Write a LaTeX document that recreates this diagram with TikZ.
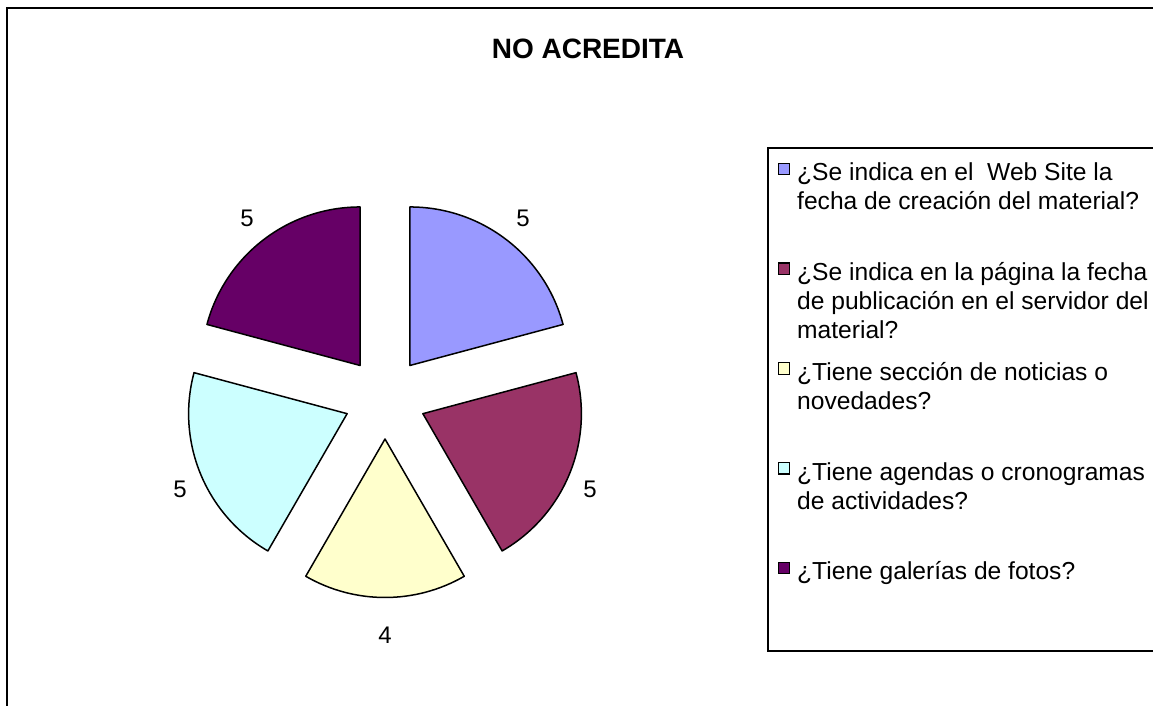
\documentclass[tikz,border=0pt]{standalone}
\usepackage{fontspec}
\setmainfont{Liberation Sans}
\definecolor{c1}{HTML}{9999FF}
\definecolor{c2}{HTML}{993366}
\definecolor{c3}{HTML}{FFFFCC}
\definecolor{c4}{HTML}{CCFFFF}
\definecolor{c5}{HTML}{660066}
\newcommand{\legfont}{\fontsize{24.6}{29}\selectfont}
\begin{document}
\begin{tikzpicture}[x=1pt,y=1pt,
  slice/.style={draw=black,line width=1.5pt,line join=round},
  lbl/.style={font=\fontsize{24}{29}\selectfont,inner sep=0pt,anchor=center},
  legtext/.style={font=\legfont,anchor=base west,inner sep=0pt},
  legmark/.style={draw=black,line width=1.2pt,minimum size=11.5pt,inner sep=0pt,anchor=center}
]
\useasboundingbox (0,0) rectangle (1153,706);
\clip (0,0) rectangle (1153,706);
% outer chart border
\draw[line width=2pt] (7,-20) rectangle (1180,698);
% title
\node[font=\bfseries\fontsize{28}{32}\selectfont,anchor=base,inner sep=0pt] (title) at (588,647.7) {NO ACREDITA};
% pie
\coordinate (C) at (385,308);
\def\R{158.5}
\def\D{41}
\coordinate (a1) at ([shift={(52.5:\D)}]C);
\coordinate (a2) at ([shift={(-22.5:\D)}]C);
\coordinate (a3) at ([shift={(-90:\D)}]C);
\coordinate (a4) at ([shift={(-157.5:\D)}]C);
\coordinate (a5) at ([shift={(127.5:\D)}]C);
\draw[slice,fill=c1] (a1) -- ++(15:\R) arc[start angle=15,end angle=90,radius=\R] -- cycle;
\draw[slice,fill=c2] (a2) -- ++(-60:\R) arc[start angle=-60,end angle=15,radius=\R] -- cycle;
\draw[slice,fill=c3] (a3) -- ++(-120:\R) arc[start angle=-120,end angle=-60,radius=\R] -- cycle;
\draw[slice,fill=c4] (a4) -- ++(165:\R) arc[start angle=165,end angle=240,radius=\R] -- cycle;
\draw[slice,fill=c5] (a5) -- ++(90:\R) arc[start angle=90,end angle=165,radius=\R] -- cycle;
% data labels
\node[lbl] (l1) at (523,488) {5};
\node[lbl] (l2) at (590,217) {5};
\node[lbl] (l3) at (385,71) {4};
\node[lbl] (l4) at (180,217) {5};
\node[lbl] (l5) at (247,488) {5};
% legend
\draw[line width=2pt] (768,55) rectangle (1180,558);
\node[legmark,fill=c1] (m1) at (784,537) {};
\node[legmark,fill=c2] (m2) at (784,437.25) {};
\node[legmark,fill=c3] (m3) at (784,337.5) {};
\node[legmark,fill=c4] (m4) at (784,237.75) {};
\node[legmark,fill=c5] (m5) at (784,138) {};
\node[legtext] (t1) at (797,525) {\begin{tabular}[t]{@{}l@{}}¿Se indica en el\ \ Web Site la\\fecha de creación del material?\end{tabular}};
\node[legtext] (t2) at (797,425.25) {\begin{tabular}[t]{@{}l@{}}¿Se indica en la página la fecha\\de publicación en el servidor del\\material?\end{tabular}};
\node[legtext] (t3) at (797,325.5) {\begin{tabular}[t]{@{}l@{}}¿Tiene sección de noticias o\\novedades?\end{tabular}};
\node[legtext] (t4) at (797,225.75) {\begin{tabular}[t]{@{}l@{}}¿Tiene agendas o cronogramas\\de actividades?\end{tabular}};
\node[legtext] (t5) at (797,126) {\begin{tabular}[t]{@{}l@{}}¿Tiene galerías de fotos?\end{tabular}};
\end{tikzpicture}
\end{document}
